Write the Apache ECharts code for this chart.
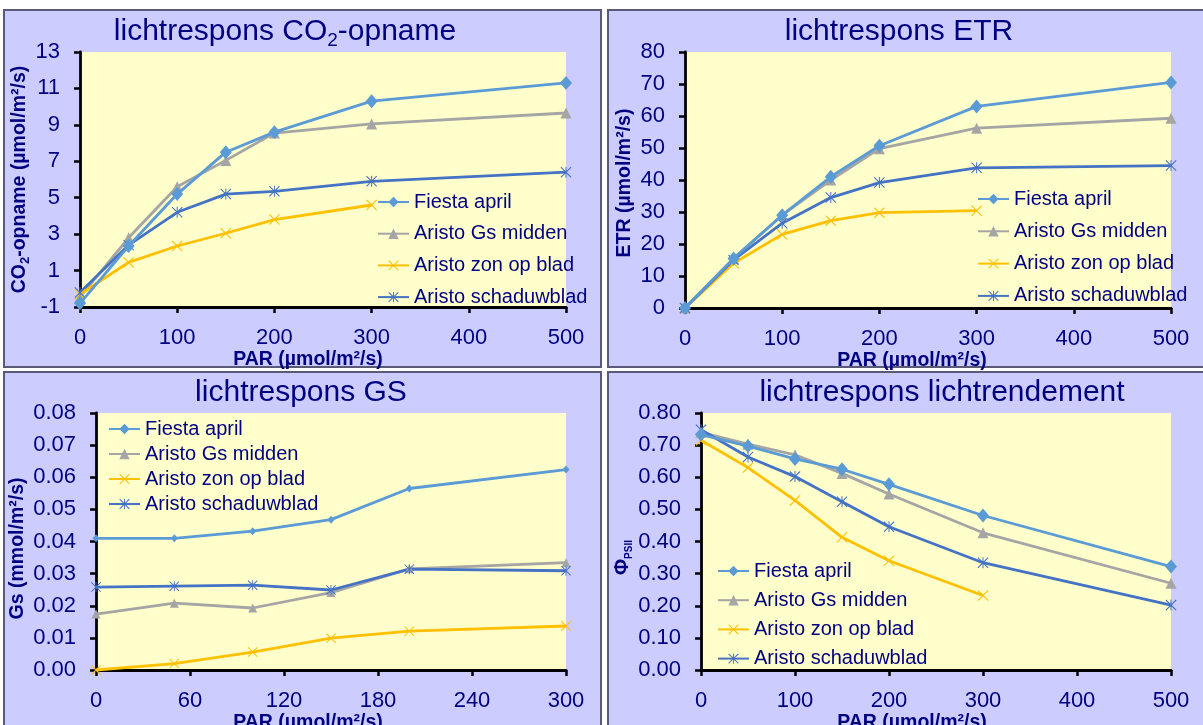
<!DOCTYPE html>
<html>
<head>
<meta charset="utf-8">
<script src="https://cdn.jsdelivr.net/npm/echarts@6/dist/echarts.min.js"></script>
<style>
  html, body { margin: 0; padding: 0; background: #ffffff; }
  #chart { width: 1203px; height: 725px; }
</style>
</head>
<body>
<div id="chart"></div>
<script>
// PAR levels (µmol/m²/s) at which each leaf was measured
const parLevels = [0, 50, 100, 150, 200, 300, 500];

const seriesNames = ['Fiesta april', 'Aristo Gs midden', 'Aristo zon op blad', 'Aristo schaduwblad'];

// CO2 uptake (µmol/m²/s)
const co2Fiesta  = [-0.8, 2.35, 5.2, 7.5, 8.6, 10.3, 11.3];
const co2GsMid   = [-0.45, 2.8, 5.6, 7.05, 8.55, 9.05, 9.65];
const co2Zon     = [-0.3, 1.45, 2.35, 3.05, 3.8, 4.6];
const co2Schaduw = [-0.2, 2.4, 4.2, 5.2, 5.35, 5.9, 6.4];

// ETR (µmol/m²/s)
const etrFiesta  = [0, 15.5, 29, 41, 50.7, 63, 70.5];
const etrGsMid   = [0, 15.5, 29, 40, 49.8, 56.2, 59.3];
const etrZon     = [0, 14, 23, 27.3, 29.8, 30.4];
const etrSchaduw = [0, 15, 26.5, 34.5, 39.2, 43.8, 44.5];

// stomatal conductance Gs (mmol/m²/s)
const gsFiesta  = [0.041, 0.041, 0.0432, 0.0468, 0.0565, 0.0624];
const gsGsMid   = [0.0174, 0.0208, 0.0193, 0.0241, 0.0315, 0.0334];
const gsZon     = [0, 0.002, 0.0056, 0.0099, 0.0121, 0.0137];
const gsSchaduw = [0.0258, 0.0261, 0.0264, 0.0249, 0.0314, 0.0309];

// PSII light use efficiency
const phiFiesta  = [0.733, 0.697, 0.657, 0.625, 0.578, 0.481, 0.322];
const phiGsMid   = [0.740, 0.703, 0.670, 0.612, 0.548, 0.427, 0.270];
const phiZon     = [0.715, 0.630, 0.528, 0.413, 0.340, 0.232];
const phiSchaduw = [0.748, 0.663, 0.602, 0.524, 0.446, 0.334, 0.202];

const NAVY = '#000080';
const FONT = '"Liberation Sans", Arial, sans-serif';
const colors = ['#5B9BD5', '#A5A5A5', '#FFC000', '#4472C4'];

// thin cross and asterisk markers
const CROSS = 'path://M0,0.7L0.7,0L5,4.3L9.3,0L10,0.7L5.7,5L10,9.3L9.3,10L5,5.7L0.7,10L0,9.3L4.3,5Z';
const STAR = 'path://M0,0.7L0.7,0L5,4.3L9.3,0L10,0.7L5.7,5L10,9.3L9.3,10L5,5.7L0.7,10L0,9.3L4.3,5Z M4.55,0L5.45,0L5.45,10L4.55,10Z';
const symbols = ['diamond', 'triangle', CROSS, STAR];
const symbolSizes = [[12, 14], 11, 11, 11];
const smallSizes = [[7, 8], 9, 10, 10];

function pairs(xs, ys) { return ys.map((v, i) => [xs[i], v]); }

function makeSeries(panel, sets, sizes) {
  return sets.map((vals, k) => ({
    type: 'line',
    name: seriesNames[k],
    xAxisIndex: panel,
    yAxisIndex: panel,
    data: pairs(parLevels, vals),
    symbol: symbols[k],
    symbolSize: sizes[k],
    showAllSymbol: true,
    clip: false,
    z: 3 + (k === 0 ? 1 : 0),
    lineStyle: { color: colors[k], width: 2.8 },
    itemStyle: { color: colors[k] },
    emphasis: { disabled: true },
    animation: false
  }));
}

const subRich = (size) => ({
  s: { fontSize: size, fontFamily: FONT, color: NAVY, fontWeight: 'bold', lineHeight: 14, verticalAlign: 'bottom' }
});

function titleOpt(text, cx, top) {
  return {
    text, left: cx, top, textAlign: 'center', padding: 0,
    textStyle: {
      fontSize: 30, fontWeight: 'normal', fontFamily: FONT, color: NAVY, lineHeight: 36,
      rich: { s: { fontSize: 19, fontFamily: FONT, color: NAVY, lineHeight: 16, verticalAlign: 'bottom' } }
    }
  };
}

function xAxisOpt(grid, max, interval, padRight, gap) {
  return {
    type: 'value', gridIndex: grid, min: 0, max, interval,
    name: 'PAR (µmol/m²/s)', nameLocation: 'middle', nameGap: gap,
    nameTextStyle: { fontSize: 19.5, fontWeight: 'bold', fontFamily: FONT, color: NAVY, lineHeight: 20, padding: [0, padRight, 0, 0] },
    axisLine: { onZero: false, lineStyle: { color: '#000', width: 2.8 } },
    axisTick: { show: true, length: 6, lineStyle: { color: '#000', width: 2.5 } },
    axisLabel: { fontSize: 22, fontFamily: FONT, color: NAVY, margin: 20, lineHeight: 22 },
    splitLine: { show: false }
  };
}

function yAxisOpt(grid, min, max, interval, name, gap, padRight, decimals, rich) {
  return {
    type: 'value', gridIndex: grid, min, max, interval,
    name, nameLocation: 'middle', nameGap: gap,
    nameTextStyle: { fontSize: 19.5, fontWeight: 'bold', fontFamily: FONT, color: NAVY, lineHeight: 24, padding: [0, padRight, 0, 0], rich },
    axisLine: { onZero: false, lineStyle: { color: '#000', width: 2.8 } },
    axisTick: { show: true, length: 6, lineStyle: { color: '#000', width: 2.5 } },
    axisLabel: {
      fontSize: 22, fontFamily: FONT, color: NAVY, margin: 20,
      formatter: v => decimals ? v.toFixed(decimals) : String(Math.round(v))
    },
    splitLine: { show: false }
  };
}

function legendOpt(left, top, gap) {
  return {
    orient: 'vertical', left, top, padding: 0, itemGap: gap,
    itemWidth: 31, itemHeight: 13,
    selectedMode: false,
    data: seriesNames,
    textStyle: { fontSize: 20, fontFamily: FONT, color: NAVY, lineHeight: 20 }
  };
}

// fixed plot rectangles; labels are allowed to run past the canvas edge
function gridOpt(left, top, right, bottom) {
  return {
    left, top, width: right - left, height: bottom - top,
    show: true, backgroundColor: '#FFFFCC', borderWidth: 0,
    containLabel: false, outerBoundsMode: 'none'
  };
}

function panelRect(x, y, w, h) {
  return { type: 'rect', z: -10, silent: true, shape: { x, y, width: w, height: h },
           style: { fill: '#CCCCFF', stroke: '#5a5a78', lineWidth: 2 } };
}

const chart = echarts.init(document.getElementById('chart'), null, { renderer: 'canvas' });

chart.setOption({
  backgroundColor: '#ffffff',
  animation: false,
  textStyle: { fontFamily: FONT },
  graphic: [
    panelRect(4, 10, 597, 357),
    panelRect(608, 10, 600, 357),
    panelRect(4, 372, 597, 360),
    panelRect(608, 372, 600, 360)
  ],
  title: [
    titleOpt('lichtrespons CO{s|2}-opname', 285, 14),
    titleOpt('lichtrespons ETR', 899, 14),
    titleOpt('lichtrespons GS', 301, 375),
    titleOpt('lichtrespons lichtrendement', 942, 375)
  ],
  grid: [
    gridOpt(80, 52, 566, 307),
    gridOpt(685, 52, 1171, 308),
    gridOpt(96, 413, 566, 670),
    gridOpt(701, 413, 1171, 670)
  ],
  xAxis: [
    xAxisOpt(0, 500, 100, 30, 35),
    xAxisOpt(1, 500, 100, 32, 35),
    xAxisOpt(2, 300, 60, 46, 35),
    xAxisOpt(3, 500, 100, 48, 35)
  ],
  yAxis: [
    yAxisOpt(0, -1, 13, 2, 'CO{s|2}-opname (µmol/m²/s)', 47, 0, 0, subRich(13)),
    yAxisOpt(1, 0, 80, 10, 'ETR (µmol/m²/s)', 47, 6, 0, subRich(13)),
    yAxisOpt(2, 0, 0.08, 0.01, 'Gs (mmol/m²/s)', 64, 14, 2, subRich(13)),
    yAxisOpt(3, 0, 0.8, 0.1, 'Φ{s|PSII}', 64, 32, 2, subRich(10))
  ],
  legend: [
    legendOpt(377, 192, 11.7),
    legendOpt(977, 189, 12.3),
    legendOpt(108, 419, 5),
    legendOpt(717, 561, 9.2)
  ],
  series: [
    ...makeSeries(0, [co2Fiesta, co2GsMid, co2Zon, co2Schaduw], symbolSizes),
    ...makeSeries(1, [etrFiesta, etrGsMid, etrZon, etrSchaduw], symbolSizes),
    ...makeSeries(2, [gsFiesta, gsGsMid, gsZon, gsSchaduw], smallSizes),
    ...makeSeries(3, [phiFiesta, phiGsMid, phiZon, phiSchaduw], symbolSizes)
  ]
});
</script>
</body>
</html>
